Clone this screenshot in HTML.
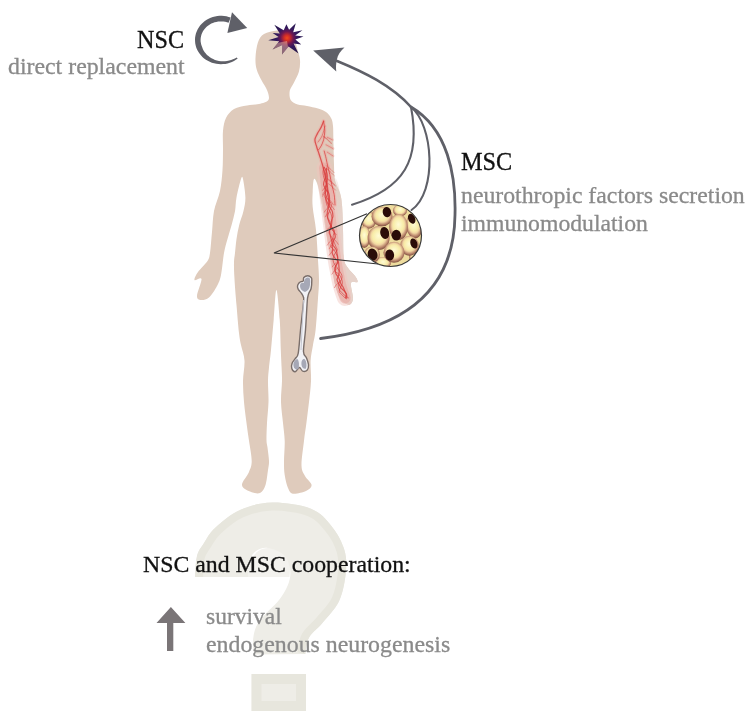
<!DOCTYPE html>
<html><head><meta charset="utf-8">
<style>
html,body{margin:0;padding:0;background:#fff;}
body{width:752px;height:726px;overflow:hidden;position:relative;}
svg{position:absolute;left:0;top:0;}
.t{position:absolute;will-change:transform;font-family:"Liberation Serif",serif;white-space:nowrap;line-height:1;}
.blk{color:#111;-webkit-text-stroke:0.3px #111;}
.gry{color:#8a8a8a;-webkit-text-stroke:0.3px #8a8a8a;}
</style></head>
<body>
<svg width="752" height="726" viewBox="0 0 752 726">
  <defs>
    <radialGradient id="starg" gradientUnits="userSpaceOnUse" cx="287" cy="38" r="17">
      <stop offset="0" stop-color="#f04a1c"/>
      <stop offset="0.17" stop-color="#d02c28"/>
      <stop offset="0.38" stop-color="#6c1852"/>
      <stop offset="0.58" stop-color="#34195e"/>
      <stop offset="1" stop-color="#26184c"/>
    </radialGradient>
    <radialGradient id="cellg" cx="0.5" cy="0.45" r="0.55" fx="0.5" fy="0.4">
      <stop offset="0" stop-color="#fffbd6"/>
      <stop offset="0.5" stop-color="#f8eca8"/>
      <stop offset="0.64" stop-color="#f0d4a2"/>
      <stop offset="0.84" stop-color="#ba866c"/>
      <stop offset="1" stop-color="#7e4e3e"/>
    </radialGradient>
    <linearGradient id="armg" gradientUnits="userSpaceOnUse" x1="0" y1="165" x2="0" y2="215">
      <stop offset="0" stop-color="#e6d2ca" stop-opacity="0"/>
      <stop offset="1" stop-color="#e6d2ca" stop-opacity="1"/>
    </linearGradient>
    <clipPath id="circclip"><circle cx="390.5" cy="235.5" r="31"/></clipPath>
    <clipPath id="qclip"><path id="qpath" d="M195,577 C195.3,573.5 195.5,561.7 197.0,556.0 C198.5,550.3 201.0,547.7 204.0,543.0 C207.0,538.3 209.0,533.5 215.0,528.0 C221.0,522.5 230.5,514.2 240.0,510.0 C249.5,505.8 260.2,502.8 272.0,502.6 C283.8,502.4 301.0,504.8 311.0,508.8 C321.0,512.8 326.4,519.8 332.0,526.7 C337.6,533.6 342.1,542.3 344.4,550.0 C346.7,557.7 346.7,564.5 345.8,573.0 C344.9,581.5 342.9,593.0 339.0,601.3 C335.1,609.6 327.6,616.7 322.6,622.8 C317.6,628.9 311.9,632.5 309.0,637.7 C306.1,642.9 305.9,651.3 305.3,654.0 L254.5,654.5 C254.2,653.1 253.1,649.2 253.0,646.0 C252.9,642.8 252.9,638.7 253.7,635.0 C254.4,631.3 255.4,627.7 257.5,624.0 C259.6,620.3 263.1,616.7 266.4,613.0 C269.7,609.3 274.3,605.7 277.4,602.0 C280.5,598.3 283.0,594.7 285.0,591.0 C287.0,587.3 288.7,583.7 289.5,580.0 C290.3,576.3 290.9,573.2 290.0,569.0 C289.1,564.8 287.7,558.5 284.0,555.0 C280.3,551.5 272.7,548.7 268.0,548.0 C263.3,547.3 259.0,549.0 256.0,551.0 C253.0,553.0 251.3,555.7 250.0,560.0 C248.7,564.3 248.3,574.2 248.0,577.0 Z"/></clipPath>
    <clipPath id="dclip"><rect x="251.5" y="674" width="54.5" height="37"/></clipPath>
    <clipPath id="starfade"><polygon points="287,41 262,46 262,64 291,64"/></clipPath>
    <filter id="soft" x="-5%" y="-5%" width="110%" height="110%"><feGaussianBlur stdDeviation="0.45"/></filter>
  </defs>
  <g filter="url(#soft)">
    <path d="M248,577 C248,560 256,548 268,548 C282,548 290,558 290,569 L289.5,577 Z" fill="#f3f2ee"/>
    <path d="M195,577 C195.3,573.5 195.5,561.7 197.0,556.0 C198.5,550.3 201.0,547.7 204.0,543.0 C207.0,538.3 209.0,533.5 215.0,528.0 C221.0,522.5 230.5,514.2 240.0,510.0 C249.5,505.8 260.2,502.8 272.0,502.6 C283.8,502.4 301.0,504.8 311.0,508.8 C321.0,512.8 326.4,519.8 332.0,526.7 C337.6,533.6 342.1,542.3 344.4,550.0 C346.7,557.7 346.7,564.5 345.8,573.0 C344.9,581.5 342.9,593.0 339.0,601.3 C335.1,609.6 327.6,616.7 322.6,622.8 C317.6,628.9 311.9,632.5 309.0,637.7 C306.1,642.9 305.9,651.3 305.3,654.0 L254.5,654.5 C254.2,653.1 253.1,649.2 253.0,646.0 C252.9,642.8 252.9,638.7 253.7,635.0 C254.4,631.3 255.4,627.7 257.5,624.0 C259.6,620.3 263.1,616.7 266.4,613.0 C269.7,609.3 274.3,605.7 277.4,602.0 C280.5,598.3 283.0,594.7 285.0,591.0 C287.0,587.3 288.7,583.7 289.5,580.0 C290.3,576.3 290.9,573.2 290.0,569.0 C289.1,564.8 287.7,558.5 284.0,555.0 C280.3,551.5 272.7,548.7 268.0,548.0 C263.3,547.3 259.0,549.0 256.0,551.0 C253.0,553.0 251.3,555.7 250.0,560.0 C248.7,564.3 248.3,574.2 248.0,577.0 Z" fill="#eeede7"/>
    <path d="M195,577 C195.3,573.5 195.5,561.7 197.0,556.0 C198.5,550.3 201.0,547.7 204.0,543.0 C207.0,538.3 209.0,533.5 215.0,528.0 C221.0,522.5 230.5,514.2 240.0,510.0 C249.5,505.8 260.2,502.8 272.0,502.6 C283.8,502.4 301.0,504.8 311.0,508.8 C321.0,512.8 326.4,519.8 332.0,526.7 C337.6,533.6 342.1,542.3 344.4,550.0 C346.7,557.7 346.7,564.5 345.8,573.0 C344.9,581.5 342.9,593.0 339.0,601.3 C335.1,609.6 327.6,616.7 322.6,622.8 C317.6,628.9 311.9,632.5 309.0,637.7 C306.1,642.9 305.9,651.3 305.3,654.0" fill="none" stroke="#e7e6dd" stroke-width="16" clip-path="url(#qclip)"/>
    <rect x="251.5" y="674" width="54.5" height="37" fill="#eeede7" stroke="#e7e6dd" stroke-width="20" clip-path="url(#dclip)"/>
  </g>
  <path id="bodyp" fill="#dfcbbc" filter="url(#soft)" d="M277.0,30.5 C281.0,30.1 285.2,30.4 288.0,31.5 C290.8,32.6 292.5,34.2 294.0,37.0 C295.5,39.8 296.0,44.2 297.0,48.0 C298.0,51.8 299.7,56.0 300.0,60.0 C300.3,64.0 299.9,68.1 298.9,71.8 C297.9,75.5 295.5,79.3 294.0,82.4 C292.5,85.5 290.4,87.7 289.8,90.6 C289.2,93.5 289.4,97.7 290.7,100.0 C292.0,102.3 295.0,103.6 297.7,104.6 C300.4,105.6 303.6,105.3 307.0,106.0 C310.4,106.7 314.8,107.5 318.0,108.5 C321.2,109.5 323.8,110.4 326.0,112.0 C328.2,113.6 329.8,115.7 331.0,118.0 C332.2,120.3 332.6,121.5 333.0,126.0 C333.4,130.5 333.3,138.5 333.5,145.0 C333.7,151.5 333.8,159.2 334.0,165.0 C334.2,170.8 334.0,175.3 335.0,180.0 C336.0,184.7 338.8,188.8 340.0,193.0 C341.2,197.2 341.5,198.8 342.0,205.0 C342.5,211.2 342.7,221.2 343.0,230.0 C343.3,238.8 343.0,251.7 343.8,258.0 C344.6,264.3 346.1,265.0 348.0,268.0 C349.9,271.0 353.4,273.7 355.0,276.0 C356.6,278.3 358.2,280.8 357.5,282.0 C356.8,283.2 351.8,280.2 351.0,283.0 C350.2,285.8 353.2,294.9 353.0,298.5 C352.8,302.1 351.3,303.8 350.0,304.5 C348.7,305.2 346.7,304.1 345.0,303.0 C343.3,301.9 341.7,301.3 340.0,298.0 C338.3,294.7 336.1,289.2 334.7,283.0 C333.3,276.8 333.0,268.1 331.7,260.6 C330.4,253.1 328.6,247.3 327.0,238.0 C325.4,228.7 323.5,213.7 322.0,205.0 C320.5,196.3 319.3,190.3 318.0,186.0 C316.7,181.7 314.9,178.0 314.0,179.0 C313.1,180.0 312.9,187.3 312.7,192.0 C312.5,196.7 312.1,200.7 312.7,207.0 C313.2,213.3 315.1,221.2 316.0,230.0 C316.9,238.8 317.5,251.7 318.0,260.0 C318.5,268.3 319.0,273.3 319.0,280.0 C319.0,286.7 318.5,291.7 317.9,300.0 C317.3,308.3 316.4,322.5 315.6,330.0 C314.8,337.5 313.8,339.9 313.0,345.0 C312.2,350.1 310.9,354.7 310.6,360.7 C310.3,366.7 311.3,374.1 311.0,381.0 C310.7,387.9 309.8,395.0 309.0,402.0 C308.2,409.0 307.2,416.6 306.4,423.0 C305.6,429.4 304.8,433.6 304.0,440.7 C303.2,447.8 301.3,459.6 301.5,465.5 C301.7,471.4 303.3,472.8 305.0,476.0 C306.7,479.2 311.4,482.5 311.6,485.0 C311.8,487.5 309.1,489.6 306.0,491.0 C302.9,492.4 296.0,494.2 293.0,493.7 C290.0,493.2 289.4,491.1 288.0,488.0 C286.6,484.9 285.4,479.5 284.7,475.0 C284.0,470.5 284.0,466.7 284.0,461.0 C284.0,455.3 284.9,447.0 284.7,440.7 C284.5,434.4 283.6,429.4 283.0,423.0 C282.4,416.6 281.2,409.0 281.0,402.0 C280.8,395.0 281.9,386.8 282.0,381.0 C282.1,375.2 281.8,372.7 281.6,367.5 C281.4,362.3 281.1,358.0 280.8,350.0 C280.5,342.0 280.4,329.6 279.7,319.6 C279.0,309.6 277.4,290.0 276.4,290.0 C275.4,290.0 274.6,309.6 273.7,319.6 C272.8,329.6 271.8,342.0 271.0,350.0 C270.2,358.0 269.5,362.3 269.0,367.5 C268.5,372.7 268.1,375.2 268.0,381.0 C267.9,386.8 268.7,395.0 268.5,402.0 C268.3,409.0 267.3,416.7 267.0,423.0 C266.7,429.3 266.4,435.9 266.5,440.0 C266.6,444.1 267.1,444.0 267.5,447.5 C267.9,451.0 268.9,457.2 269.0,461.0 C269.1,464.8 268.6,466.0 268.0,470.0 C267.4,474.0 266.8,481.2 265.5,485.0 C264.2,488.8 262.6,491.9 260.0,493.0 C257.4,494.1 253.0,492.9 250.0,491.6 C247.0,490.3 242.2,488.3 242.0,485.0 C241.8,481.7 247.4,476.0 249.0,472.0 C250.6,468.0 251.7,466.2 251.7,461.0 C251.7,455.8 249.9,447.0 249.0,440.7 C248.1,434.4 247.3,429.4 246.5,423.0 C245.7,416.6 244.6,409.0 244.0,402.0 C243.4,395.0 242.9,387.9 243.0,381.0 C243.1,374.1 244.8,366.7 244.5,360.7 C244.2,354.7 241.9,349.6 241.0,345.0 C240.1,340.4 239.8,339.7 239.0,333.0 C238.2,326.3 237.3,314.2 236.5,305.0 C235.7,295.8 234.8,284.7 234.4,277.5 C234.0,270.3 233.9,266.1 234.0,262.0 C234.1,257.9 234.6,256.9 235.0,253.0 C235.4,249.2 235.8,243.6 236.5,238.9 C237.2,234.2 238.0,229.6 239.2,225.0 C240.3,220.4 242.4,215.9 243.4,211.3 C244.4,206.7 245.5,202.9 245.4,197.5 C245.3,192.1 243.7,182.1 243.0,179.0 C242.3,175.9 242.1,175.9 241.0,179.0 C239.9,182.1 237.5,192.1 236.5,197.5 C235.5,202.9 235.8,206.7 235.0,211.3 C234.2,215.9 232.8,220.4 231.6,225.0 C230.3,229.6 228.8,234.2 227.5,238.9 C226.2,243.6 225.1,247.0 224.0,253.0 C222.9,259.0 222.2,269.5 221.0,275.0 C219.8,280.5 219.0,282.2 217.0,286.0 C215.0,289.8 211.7,295.2 209.0,297.5 C206.3,299.8 203.0,300.2 201.0,300.0 C199.0,299.8 196.9,299.5 197.0,296.0 C197.1,292.5 201.9,281.7 201.5,279.0 C201.1,276.3 195.1,281.2 194.5,280.0 C193.9,278.8 195.8,275.2 198.0,272.0 C200.2,268.8 205.5,264.2 207.5,261.0 C209.5,257.8 209.2,257.8 210.0,253.0 C210.8,248.2 211.3,239.0 212.0,232.0 C212.7,225.0 212.7,217.8 214.0,211.0 C215.3,204.2 218.6,197.8 220.0,191.0 C221.4,184.2 222.0,176.8 222.5,170.0 C223.0,163.2 222.9,156.5 223.0,150.0 C223.1,143.5 222.5,136.3 223.0,131.0 C223.5,125.7 224.2,121.7 226.0,118.0 C227.8,114.3 230.5,111.1 234.0,109.0 C237.5,106.9 242.8,106.3 247.0,105.5 C251.2,104.7 255.4,104.9 259.0,104.0 C262.6,103.1 267.0,102.2 268.4,100.0 C269.8,97.8 268.4,93.9 267.2,90.6 C266.0,87.3 263.1,83.5 261.4,80.0 C259.6,76.5 257.7,73.2 256.7,69.5 C255.7,65.8 255.3,62.3 255.5,57.8 C255.7,53.3 256.5,46.6 257.9,42.6 C259.3,38.6 260.8,36.0 264.0,34.0 C267.2,32.0 273.0,30.9 277.0,30.5 Z"/>
  <path fill="url(#armg)" filter="url(#soft)" d="M318.0,180.0 C320.2,175.5 331.3,175.8 335.0,178.0 C338.7,180.2 338.8,188.5 340.0,193.0 C341.2,197.5 341.5,198.8 342.0,205.0 C342.5,211.2 342.7,221.2 343.0,230.0 C343.3,238.8 343.0,251.7 343.8,258.0 C344.6,264.3 346.1,265.0 348.0,268.0 C349.9,271.0 353.4,273.7 355.0,276.0 C356.6,278.3 358.2,280.8 357.5,282.0 C356.8,283.2 351.8,280.2 351.0,283.0 C350.2,285.8 353.2,294.9 353.0,298.5 C352.8,302.1 351.3,303.8 350.0,304.5 C348.7,305.2 346.7,304.1 345.0,303.0 C343.3,301.9 341.7,301.3 340.0,298.0 C338.3,294.7 336.1,289.2 334.7,283.0 C333.3,276.8 333.0,268.1 331.7,260.6 C330.4,253.1 328.6,247.3 327.0,238.0 C325.4,228.7 323.5,214.7 322.0,205.0 C320.5,195.3 315.8,184.5 318.0,180.0 Z"/>
  <g fill="none" stroke-linecap="round" stroke-linejoin="round" filter="url(#soft)">
    <path d="M324.5,168.0 C324.8,170.3 325.5,177.3 326.0,182.0 C326.5,186.7 326.9,191.0 327.5,196.0 C328.1,201.0 328.8,206.7 329.5,212.0 C330.2,217.3 330.8,222.7 331.5,228.0 C332.2,233.3 332.8,239.0 333.5,244.0 C334.2,249.0 334.8,253.3 335.5,258.0 C336.2,262.7 337.1,267.3 338.0,272.0 C338.9,276.7 339.8,281.7 341.0,286.0 C342.2,290.3 344.3,296.0 345.0,298.0" stroke="#efc4bc" stroke-width="16" opacity="0.45"/>
    <path d="M324.5,168.0 C324.8,170.3 325.5,177.3 326.0,182.0 C326.5,186.7 326.9,191.0 327.5,196.0 C328.1,201.0 328.8,206.7 329.5,212.0 C330.2,217.3 330.8,222.7 331.5,228.0 C332.2,233.3 332.8,239.0 333.5,244.0 C334.2,249.0 334.8,253.3 335.5,258.0 C336.2,262.7 337.1,267.3 338.0,272.0 C338.9,276.7 339.8,281.7 341.0,286.0 C342.2,290.3 344.3,296.0 345.0,298.0" stroke="#eaa8a0" stroke-width="11" opacity="0.55"/>
    <path d="M323.6,121.2 C323.2,122.2 322.1,125.3 321.1,127.4 C320.1,129.5 318.4,131.5 317.4,133.6 C316.4,135.7 315.0,137.5 314.9,139.8 C314.8,142.1 316.1,144.7 316.8,147.2 C317.5,149.7 318.4,151.8 319.3,154.7 C320.2,157.6 321.5,161.3 322.4,164.6 C323.3,167.9 324.1,171.2 324.8,174.5 C325.5,177.8 326.2,181.1 326.7,184.4 C327.2,187.7 327.5,190.9 327.9,194.3 C328.3,197.7 329.0,203.2 329.2,205.0" stroke="#eeaaa2" stroke-width="3.8" opacity="0.5"/>
    <path d="M323.6,121.2 C323.8,122.8 324.8,128.0 324.8,131.1 C324.8,134.2 324.2,137.3 323.6,139.8 C323.0,142.3 321.9,144.3 321.1,146.0 C320.3,147.7 319.0,149.1 318.6,149.7" stroke="#eeaaa2" stroke-width="3.4" opacity="0.5"/>
    <path d="M324.2,151.0 C324.5,152.2 325.5,155.7 326.1,158.4 C326.7,161.1 327.3,164.4 327.9,167.1 C328.5,169.8 329.2,171.6 329.8,174.5 C330.4,177.4 331.0,181.1 331.7,184.4 C332.4,187.7 333.6,190.9 334.1,194.3 C334.7,197.7 334.9,203.2 335.0,205.0" stroke="#eeaaa2" stroke-width="3.4" opacity="0.5"/>
    <path d="M327.3,137.3 C328.1,137.7 331.5,139.4 332.3,139.8" stroke="#eeaaa2" stroke-width="3.0" opacity="0.5"/>
    <path d="M326.1,144.8 C327.2,145.4 331.8,147.9 332.9,148.5" stroke="#eeaaa2" stroke-width="3.0" opacity="0.5"/>
    <path d="M327.3,152.2 C328.2,152.8 332.0,155.3 332.9,155.9" stroke="#eeaaa2" stroke-width="3.0" opacity="0.5"/>
    <path d="M318.0,142.0 C318.7,141.0 320.8,138.7 322.0,136.0 C323.2,133.3 324.5,127.7 325.0,126.0" stroke="#eeaaa2" stroke-width="3.1" opacity="0.5"/>
    <path d="M323.6,121.2 C323.2,122.2 322.1,125.3 321.1,127.4 C320.1,129.5 318.4,131.5 317.4,133.6 C316.4,135.7 315.0,137.5 314.9,139.8 C314.8,142.1 316.1,144.7 316.8,147.2 C317.5,149.7 318.4,151.8 319.3,154.7 C320.2,157.6 321.5,161.3 322.4,164.6 C323.3,167.9 324.1,171.2 324.8,174.5 C325.5,177.8 326.2,181.1 326.7,184.4 C327.2,187.7 327.5,190.9 327.9,194.3 C328.3,197.7 329.0,203.2 329.2,205.0" stroke="#d83c3c" stroke-width="1.3" opacity="0.8"/>
    <path d="M323.6,121.2 C323.8,122.8 324.8,128.0 324.8,131.1 C324.8,134.2 324.2,137.3 323.6,139.8 C323.0,142.3 321.9,144.3 321.1,146.0 C320.3,147.7 319.0,149.1 318.6,149.7" stroke="#d83c3c" stroke-width="0.9" opacity="0.8"/>
    <path d="M324.2,151.0 C324.5,152.2 325.5,155.7 326.1,158.4 C326.7,161.1 327.3,164.4 327.9,167.1 C328.5,169.8 329.2,171.6 329.8,174.5 C330.4,177.4 331.0,181.1 331.7,184.4 C332.4,187.7 333.6,190.9 334.1,194.3 C334.7,197.7 334.9,203.2 335.0,205.0" stroke="#d83c3c" stroke-width="0.9" opacity="0.8"/>
    <path d="M327.3,137.3 C328.1,137.7 331.5,139.4 332.3,139.8" stroke="#d83c3c" stroke-width="0.5" opacity="0.8"/>
    <path d="M326.1,144.8 C327.2,145.4 331.8,147.9 332.9,148.5" stroke="#d83c3c" stroke-width="0.5" opacity="0.8"/>
    <path d="M327.3,152.2 C328.2,152.8 332.0,155.3 332.9,155.9" stroke="#d83c3c" stroke-width="0.5" opacity="0.8"/>
    <path d="M318.0,142.0 C318.7,141.0 320.8,138.7 322.0,136.0 C323.2,133.3 324.5,127.7 325.0,126.0" stroke="#d83c3c" stroke-width="0.6" opacity="0.8"/>
    <path d="M324.2,167.3 C324.6,168.0 325.9,169.9 326.4,171.3 C326.9,172.8 327.3,174.6 327.3,176.1 C327.4,177.7 326.9,179.2 326.7,180.6 C326.5,182.0 326.2,183.4 326.0,184.7 C325.7,185.9 325.2,186.7 325.1,188.2 C324.9,189.7 325.1,192.4 325.1,193.9 C325.2,195.3 324.8,195.5 325.2,197.0 C325.6,198.6 326.9,201.6 327.6,203.3 C328.4,205.0 328.9,205.7 329.7,207.0 C330.4,208.3 331.6,209.5 332.2,211.1 C332.7,212.7 333.0,214.8 332.9,216.4 C332.7,218.0 331.8,219.1 331.5,220.8 C331.1,222.6 331.1,225.3 330.8,227.0 C330.4,228.8 329.7,229.9 329.6,231.4 C329.6,232.8 330.0,234.3 330.3,235.7 C330.6,237.2 331.0,238.4 331.4,239.9 C331.8,241.4 332.0,243.2 332.7,244.8 C333.5,246.4 335.3,247.9 336.1,249.5 C336.8,251.0 336.8,252.6 337.1,254.0 C337.4,255.3 337.6,256.2 337.7,257.6 C337.7,259.0 337.9,261.1 337.5,262.6 C337.2,264.1 335.9,265.1 335.5,266.5 C335.1,268.0 335.2,270.0 335.3,271.4 C335.4,272.7 335.7,273.2 336.3,274.4 C336.9,275.5 338.1,276.7 338.9,278.2 C339.6,279.8 340.1,282.2 340.9,283.7 C341.6,285.2 342.5,285.9 343.2,287.2 C343.8,288.4 344.3,289.9 344.8,291.1 C345.3,292.4 346.1,293.5 346.2,294.5 C346.3,295.6 345.7,297.1 345.6,297.6" stroke="#d83c3c" stroke-width="1.2" opacity="0.8"/>
    <path d="M326.6,168.2 C326.5,168.8 326.4,170.6 326.2,172.1 C326.1,173.6 326.0,175.8 325.6,177.3 C325.3,178.8 324.5,179.6 324.2,180.9 C323.8,182.2 323.4,183.7 323.7,185.2 C324.1,186.7 325.4,188.7 326.2,190.0 C327.0,191.2 328.1,191.4 328.6,192.8 C329.2,194.1 329.4,196.3 329.5,197.9 C329.6,199.5 329.4,200.9 329.3,202.3 C329.1,203.7 328.9,204.7 328.6,206.4 C328.2,208.1 327.5,210.9 327.3,212.5 C327.1,214.2 327.0,214.7 327.3,216.3 C327.6,217.9 328.5,220.7 329.1,222.3 C329.8,224.0 330.3,224.7 331.1,226.3 C331.9,227.9 333.3,230.2 334.0,232.0 C334.7,233.7 335.3,235.3 335.3,236.7 C335.2,238.2 334.1,239.1 333.6,240.6 C333.1,242.2 332.5,244.8 332.3,246.2 C332.1,247.5 332.6,247.7 332.6,248.9 C332.6,250.1 331.9,251.8 332.3,253.3 C332.7,254.8 333.9,256.6 334.9,258.0 C335.9,259.4 337.6,260.3 338.3,261.7 C338.9,263.1 338.7,264.7 338.9,266.2 C339.0,267.7 339.2,269.2 339.2,270.7 C339.1,272.2 339.1,273.8 338.7,275.2 C338.4,276.6 337.2,278.0 337.1,279.2 C336.9,280.4 337.4,280.9 338.0,282.3 C338.7,283.7 340.0,286.2 341.1,287.8 C342.2,289.3 343.7,290.3 344.6,291.4 C345.5,292.5 346.2,293.1 346.5,294.2 C346.9,295.3 346.7,297.6 346.7,298.3" stroke="#d83c3c" stroke-width="1.2" opacity="0.8"/>
    <path d="M323.9,167.1 C323.7,167.9 323.1,170.1 323.0,171.5 C322.9,172.9 323.1,174.1 323.4,175.5 C323.7,176.9 324.0,178.4 324.6,179.9 C325.2,181.4 326.4,182.9 327.0,184.5 C327.6,186.2 327.8,188.4 328.0,189.7 C328.2,191.1 328.5,191.2 328.2,192.5 C327.9,193.8 326.6,195.8 326.2,197.3 C325.8,198.8 325.6,199.8 326.0,201.6 C326.3,203.5 327.5,206.5 328.2,208.2 C328.9,209.9 329.7,210.7 330.3,212.0 C330.8,213.3 331.3,214.5 331.6,216.0 C331.9,217.5 332.1,219.5 332.1,221.1 C332.0,222.7 331.9,223.9 331.4,225.7 C330.9,227.6 329.1,230.5 329.0,232.1 C328.8,233.7 329.8,234.0 330.5,235.3 C331.2,236.6 332.3,238.0 333.2,239.9 C334.0,241.7 335.1,244.7 335.8,246.4 C336.5,248.0 337.3,248.8 337.2,250.0 C337.1,251.2 335.7,252.1 335.0,253.5 C334.3,255.0 333.3,257.0 333.1,258.5 C332.9,260.1 333.3,261.5 333.7,262.8 C334.2,264.0 334.7,264.4 335.7,265.8 C336.8,267.3 338.8,270.0 339.8,271.6 C340.8,273.2 341.6,274.1 341.9,275.4 C342.2,276.7 342.0,278.2 341.5,279.5 C341.0,280.8 339.3,282.1 338.8,283.2 C338.3,284.4 338.2,285.1 338.3,286.3 C338.5,287.4 338.9,288.9 339.8,290.4 C340.8,291.8 342.6,293.5 344.1,294.8 C345.5,296.0 347.8,297.4 348.5,297.9" stroke="#d83c3c" stroke-width="0.8" opacity="0.8"/>
    <path d="M323.4,169.0 C323.6,169.5 324.4,170.8 324.8,171.9 C325.3,173.1 325.7,174.5 326.1,175.9 C326.5,177.2 327.1,178.4 327.3,180.0 C327.4,181.6 327.3,184.1 327.0,185.6 C326.8,187.1 326.1,187.6 325.8,189.0 C325.6,190.3 325.4,192.3 325.5,193.8 C325.7,195.3 326.0,196.4 326.8,197.9 C327.7,199.4 330.0,201.4 330.8,203.0 C331.5,204.5 331.5,205.6 331.1,207.2 C330.8,208.8 329.3,210.9 328.8,212.6 C328.2,214.3 327.6,215.9 327.7,217.4 C327.9,218.9 329.1,219.7 329.8,221.4 C330.4,223.0 331.0,225.8 331.8,227.3 C332.6,228.8 334.3,229.2 334.6,230.5 C334.8,231.9 333.7,233.5 333.3,235.3 C333.0,237.1 333.1,239.6 332.6,241.4 C332.2,243.2 330.4,244.6 330.7,246.1 C330.9,247.5 333.0,248.6 334.0,249.9 C334.9,251.2 335.6,252.7 336.2,253.9 C336.8,255.1 337.2,255.6 337.5,257.0 C337.7,258.5 338.1,260.8 337.7,262.5 C337.3,264.2 335.5,265.8 335.0,267.3 C334.6,268.7 334.5,270.2 335.1,271.3 C335.8,272.5 337.9,273.0 338.9,274.2 C340.0,275.4 340.9,277.1 341.5,278.6 C342.1,280.1 342.5,282.0 342.4,283.4 C342.2,284.8 341.2,285.7 340.7,287.0 C340.2,288.4 339.1,290.4 339.3,291.6 C339.4,292.8 340.3,293.1 341.4,294.3 C342.6,295.5 345.3,298.1 346.0,298.8" stroke="#d83c3c" stroke-width="0.8" opacity="0.8"/>
    <path d="M331.2,225.7 C330.8,226.1 329.2,227.2 328.5,228.0 C327.7,228.9 326.9,230.3 326.6,230.8" stroke="#d83c3c" stroke-width="0.6" opacity="0.8"/>
    <path d="M332.9,239.0 C332.3,239.5 330.4,240.8 329.5,241.9 C328.6,242.9 327.6,244.7 327.3,245.2" stroke="#d83c3c" stroke-width="0.6" opacity="0.8"/>
    <path d="M337.3,268.4 C336.8,268.8 335.0,270.0 334.2,271.0 C333.3,272.0 332.4,273.7 332.0,274.2" stroke="#d83c3c" stroke-width="0.6" opacity="0.8"/>
    <path d="M327.0,191.3 C326.6,191.7 325.1,192.7 324.3,193.5 C323.6,194.3 322.9,195.7 322.6,196.2" stroke="#d83c3c" stroke-width="0.6" opacity="0.8"/>
    <path d="M336.3,262.5 C335.9,262.9 334.6,263.8 333.9,264.5 C333.3,265.3 332.6,266.5 332.3,266.9" stroke="#d83c3c" stroke-width="0.6" opacity="0.8"/>
    <path d="M332.8,238.4 C333.3,238.8 335.1,240.1 336.0,241.1 C336.9,242.0 337.8,243.7 338.2,244.3" stroke="#d83c3c" stroke-width="0.6" opacity="0.8"/>
    <path d="M326.5,186.3 C326.1,186.6 324.8,187.5 324.2,188.2 C323.6,188.9 323.0,190.1 322.7,190.5" stroke="#d83c3c" stroke-width="0.6" opacity="0.8"/>
    <path d="M328.9,207.1 C328.4,207.5 326.9,208.5 326.2,209.4 C325.4,210.2 324.7,211.6 324.4,212.1" stroke="#d83c3c" stroke-width="0.6" opacity="0.8"/>
    <path d="M333.5,244.0 C333.1,244.4 331.6,245.4 330.9,246.2 C330.2,247.0 329.5,248.3 329.2,248.8" stroke="#d83c3c" stroke-width="0.6" opacity="0.8"/>
    <path d="M334.3,249.8 C333.8,250.2 332.1,251.4 331.3,252.3 C330.4,253.2 329.6,254.8 329.2,255.3" stroke="#d83c3c" stroke-width="0.6" opacity="0.8"/>
    <path d="M331.7,229.8 C332.2,230.2 333.7,231.3 334.4,232.1 C335.2,232.9 335.9,234.3 336.3,234.8" stroke="#d83c3c" stroke-width="0.6" opacity="0.8"/>
    <path d="M328.4,203.3 C329.0,203.8 330.9,205.1 331.9,206.2 C332.8,207.2 333.8,209.1 334.2,209.6" stroke="#d83c3c" stroke-width="0.6" opacity="0.8"/>
    <path d="M340.0,281.5 C339.5,282.0 337.7,283.3 336.7,284.3 C335.8,285.3 334.9,287.1 334.5,287.6" stroke="#d83c3c" stroke-width="0.6" opacity="0.8"/>
    <path d="M326.8,189.9 C326.4,190.2 325.0,191.2 324.3,191.9 C323.6,192.7 322.9,194.0 322.7,194.4" stroke="#d83c3c" stroke-width="0.6" opacity="0.8"/>
    <path d="M329.5,212.2 C329.1,212.5 327.7,213.5 326.9,214.3 C326.2,215.1 325.5,216.4 325.2,216.9" stroke="#d83c3c" stroke-width="0.6" opacity="0.8"/>
    <path d="M327.8,198.8 C328.4,199.2 330.2,200.5 331.1,201.4 C331.9,202.4 332.8,204.1 333.2,204.7" stroke="#d83c3c" stroke-width="0.6" opacity="0.8"/>
    <path d="M327.2,179.1 C327.9,179.6 329.9,181.0 331.2,182.1 C332.6,183.3 334.6,185.5 335.2,186.1" stroke="#d83c3c" stroke-width="0.5" opacity="0.8"/>
    <path d="M323.4,136.8 C324.1,137.3 326.1,138.6 327.4,139.8 C328.8,141.0 330.8,143.1 331.4,143.8" stroke="#d83c3c" stroke-width="0.5" opacity="0.8"/>
    <path d="M326.3,168.8 C327.0,169.3 329.0,170.7 330.3,171.8 C331.6,173.0 333.6,175.2 334.3,175.8" stroke="#d83c3c" stroke-width="0.5" opacity="0.8"/>
    <path d="M326.0,165.6 C326.7,166.1 328.7,167.5 330.0,168.6 C331.4,169.8 333.4,172.0 334.0,172.6" stroke="#d83c3c" stroke-width="0.5" opacity="0.8"/>
    <path d="M323.4,136.1 C324.0,136.6 326.0,138.0 327.4,139.1 C328.7,140.3 330.7,142.5 331.4,143.1" stroke="#d83c3c" stroke-width="0.5" opacity="0.8"/>
    <path d="M327.2,178.3 C327.8,178.8 329.8,180.2 331.2,181.3 C332.5,182.5 334.5,184.7 335.2,185.3" stroke="#d83c3c" stroke-width="0.5" opacity="0.8"/>
    <path d="M327.6,183.2 C328.3,183.7 330.3,185.0 331.6,186.2 C332.9,187.3 334.9,189.5 335.6,190.2" stroke="#d83c3c" stroke-width="0.5" opacity="0.8"/>
  </g>
  <polygon fill="url(#starg)" points="274.3,24.8 283.7,30.2 286.4,24.3 289.1,29.8 295.8,23.2 293.2,32.2 302.4,30.3 295.2,35.6 303.5,36.4 295.4,39.4 301.3,44.6 293.6,43.4 298.5,53.5 288.5,46.4 282.0,54.6 282.3,45.1 272.6,49.6 279.2,41.3 268.2,40.2 278.6,37.1 272.6,33.0 279.8,33.4"/>
  <g clip-path="url(#starfade)"><polygon fill="#f4b89c" opacity="0.5" points="274.3,24.8 283.7,30.2 286.4,24.3 289.1,29.8 295.8,23.2 293.2,32.2 302.4,30.3 295.2,35.6 303.5,36.4 295.4,39.4 301.3,44.6 293.6,43.4 298.5,53.5 288.5,46.4 282.0,54.6 282.3,45.1 272.6,49.6 279.2,41.3 268.2,40.2 278.6,37.1 272.6,33.0 279.8,33.4"/></g>
  <g filter="url(#soft)"><path fill="#5f6068" d="M230.7,17.6 L228.6,16.9 L226.4,16.3 L224.1,16.0 L221.8,15.8 L219.5,15.8 L217.3,16.1 L215.0,16.4 L212.8,17.0 L210.7,17.8 L208.6,18.7 L206.7,19.8 L204.8,21.1 L203.1,22.5 L201.5,24.0 L200.1,25.6 L198.8,27.4 L197.7,29.3 L196.8,31.2 L196.0,33.2 L195.5,35.3 L195.1,37.4 L195.0,39.5 L195.1,41.7 L195.3,43.8 L195.8,45.9 L196.4,47.9 L197.3,49.9 L198.3,51.8 L199.5,53.6 L200.9,55.3 L202.4,56.9 L204.1,58.4 L205.9,59.7 L207.8,60.8 L209.8,61.8 L211.9,62.7 L214.1,63.3 L216.3,63.8 L218.6,64.1 L220.8,64.2 L223.1,64.1 L225.4,63.9 L227.6,63.4 L229.8,62.8 L231.9,62.0 L234.0,61.0 L235.9,59.8 L237.7,58.5 L236.7,57.4 L234.9,58.4 L233.0,59.3 L231.1,60.1 L229.1,60.6 L227.0,61.0 L225.0,61.2 L222.9,61.3 L220.9,61.2 L218.9,60.9 L216.9,60.5 L215.0,59.9 L213.2,59.1 L211.5,58.3 L209.9,57.3 L208.4,56.1 L207.0,54.9 L205.8,53.6 L204.7,52.2 L203.7,50.7 L202.9,49.2 L202.3,47.6 L201.7,46.1 L201.2,44.5 L200.9,42.9 L200.6,41.3 L200.6,39.6 L200.7,38.0 L201.0,36.4 L201.4,34.8 L202.0,33.3 L202.7,31.8 L203.6,30.3 L204.6,29.0 L205.7,27.7 L206.9,26.5 L208.3,25.4 L209.8,24.5 L211.3,23.6 L212.9,22.9 L214.6,22.3 L216.3,21.9 L218.1,21.6 L219.9,21.4 L221.7,21.4 L223.4,21.5 L225.2,21.8 L227.0,22.2 L228.6,22.8 Z"/>
  <polygon fill="#5f6068" points="232,12.2 247.2,28 227.4,33"/></g>
  <g fill="none" stroke="#5f6068" stroke-linecap="round" filter="url(#soft)">
    <path d="M337.0,61.0 C363.8,72.0 391.2,85.2 411.0,107.0" stroke-width="2.5"/>
    <path d="M411.0,107.0 C448.0,128.8 456.1,175.9 455.0,215.0 C453.9,297.1 395.1,329.5 320.6,338.5" stroke-width="2.8"/>
    <path d="M411.0,107.0 C421.1,159.6 404.5,188.4 352.0,204.7" stroke-width="2.1"/>
    <path d="M411.0,107.0 C433.4,124.7 437.6,191.8 411.5,210.0" stroke-width="2.1"/>
    <path fill="#5f6068" stroke="none" d="M313.2,50.6 L344.5,47.6 C340.5,51 337.8,55 336.8,60 C336,64 335.8,67.5 336.3,71.5 Z"/>
  </g>
  <path d="M367,213.7 L274,253 L378,264" fill="none" stroke="#333" stroke-width="1.2"/>
  <g clip-path="url(#circclip)">
    <rect x="355" y="200" width="72" height="72" fill="#eedc9e"/>
    <ellipse cx="368.7" cy="220.3" rx="7.5" ry="8.5" fill="url(#cellg)"/>
    <ellipse cx="400" cy="210.4" rx="7" ry="6" fill="url(#cellg)"/>
    <ellipse cx="382" cy="216.5" rx="10.5" ry="9.8" fill="url(#cellg)"/>
    <ellipse cx="416" cy="256.7" rx="7" ry="7" fill="url(#cellg)"/>
    <ellipse cx="383" cy="263" rx="8" ry="6" fill="url(#cellg)"/>
    <ellipse cx="364.3" cy="237" rx="6" ry="11" fill="url(#cellg)"/>
    <ellipse cx="414" cy="226.4" rx="8" ry="12" fill="url(#cellg)" transform="rotate(-10 414 226.4)"/>
    <ellipse cx="398.5" cy="227" rx="9.4" ry="13" fill="url(#cellg)"/>
    <ellipse cx="378.6" cy="238" rx="11" ry="12" fill="url(#cellg)"/>
    <ellipse cx="409.5" cy="245.7" rx="9.4" ry="10" fill="url(#cellg)"/>
    <ellipse cx="372" cy="254.5" rx="8" ry="8" fill="url(#cellg)"/>
    <ellipse cx="394" cy="252.3" rx="10.5" ry="10.5" fill="url(#cellg)"/>
    <ellipse cx="386.9" cy="212.1" rx="4.2" ry="5.2" fill="#2a0c08" transform="rotate(-10 386.9 212.1)"/>
    <ellipse cx="411.7" cy="218.7" rx="3.4" ry="5.2" fill="#2a0c08" transform="rotate(-25 411.7 218.7)"/>
    <ellipse cx="384.7" cy="233" rx="4.4" ry="6" fill="#2a0c08" transform="rotate(-15 384.7 233)"/>
    <ellipse cx="396.3" cy="235.2" rx="4.7" ry="5.4" fill="#2a0c08"/>
    <ellipse cx="413.9" cy="243.5" rx="3.4" ry="5.2" fill="#2a0c08" transform="rotate(-20 413.9 243.5)"/>
    <ellipse cx="372.6" cy="254.5" rx="4.8" ry="6" fill="#2a0c08" transform="rotate(-20 372.6 254.5)"/>
    <ellipse cx="389.7" cy="255" rx="4.4" ry="5.6" fill="#2a0c08" transform="rotate(-5 389.7 255)"/>
  </g>
  <circle cx="390.5" cy="235.5" r="31" fill="none" stroke="#3a3a3a" stroke-width="1.2"/>
  <g filter="url(#soft)">
  <path d="M297.5,286.0 C297.6,284.9 298.6,283.4 299.2,282.7 C299.8,282.0 300.5,282.0 301.2,281.7 C301.9,281.4 302.9,281.7 303.3,281.0 C303.7,280.3 303.1,278.4 303.8,277.5 C304.6,276.6 306.6,275.7 307.8,275.7 C309.0,275.7 310.5,276.7 311.2,277.5 C311.9,278.3 311.8,278.5 311.8,280.3 C311.8,282.1 311.6,286.4 311.1,288.5 C310.6,290.6 309.6,291.3 309.0,292.7 C308.4,294.1 308.1,295.2 307.8,296.8 C307.5,298.4 307.6,296.5 307.2,302.0 C306.8,307.5 306.1,321.7 305.5,330.0 C304.9,338.3 303.3,347.2 303.5,351.8 C303.7,356.4 305.7,355.8 306.5,357.9 C307.3,360.0 308.4,362.7 308.5,364.7 C308.6,366.7 308.3,368.9 307.3,370.0 C306.3,371.1 304.0,371.6 302.7,371.2 C301.4,370.8 300.6,367.4 299.4,367.5 C298.1,367.6 296.5,371.6 295.2,371.8 C293.9,372.0 292.3,369.9 291.8,368.5 C291.3,367.1 291.5,364.8 292.1,363.2 C292.7,361.6 294.2,360.2 295.2,358.6 C296.2,357.0 297.3,358.1 298.2,353.3 C299.1,348.5 299.6,338.6 300.5,330.0 C301.4,321.4 303.0,307.5 303.5,302.0 C304.0,296.5 303.6,298.2 303.3,296.8 C303.0,295.4 302.4,294.7 301.6,293.5 C300.8,292.3 299.0,290.6 298.3,289.4 C297.6,288.1 297.4,287.1 297.5,286.0 Z" fill="#f2f2f6" stroke="#7a6e6a" stroke-width="1.4"/>
  <path d="M300,286 C300,283 302,282.5 304,283 C304,279 306,277.5 308,277.5 C310.5,277.5 310.5,281 310,285 C309.5,289 307.5,291 305,292 C302,291 300,289 300,286 Z" fill="#a6a8b6"/>
  <path d="M293.5,366 C293,362 295,359.5 297.5,359 C299,361 299.5,365 298.5,369 C296,370 294,369 293.5,366 Z" fill="#a6a8b6"/>
  <path d="M301.5,365 C301,361 302.5,358.5 304.5,359 C306.5,361 307,365 306,368.5 C304,369.5 302,368 301.5,365 Z" fill="#a6a8b6"/>
  <path d="M303.5,300 L302,330 L301,350" fill="none" stroke="#c4c6d0" stroke-width="1"/>
  </g>
  <polygon fill="#7a7477" filter="url(#soft)" points="170.9,607 185.4,623 173.3,623 173.3,651 167,651 167,623 156.5,623"/>
</svg>
<div class="t blk" style="left:137.3px;top:27.6px;font-size:24.2px;">NSC</div>
<div class="t gry" style="left:8.4px;top:54.7px;font-size:23.84px;">direct replacement</div>
<div class="t blk" style="left:460.9px;top:149.6px;font-size:24.3px;">MSC</div>
<div class="t gry" style="left:460.5px;top:183.7px;font-size:23.78px;">neurothropic factors secretion</div>
<div class="t gry" style="left:461.1px;top:211.7px;font-size:23.7px;">immunomodulation</div>
<div class="t blk" style="left:143.2px;top:553.4px;font-size:23.8px;">NSC and MSC cooperation:</div>
<div class="t gry" style="left:205.9px;top:604.7px;font-size:23.5px;">survival</div>
<div class="t gry" style="left:205.85px;top:633.1px;font-size:23.83px;">endogenous neurogenesis</div>
</body></html>
